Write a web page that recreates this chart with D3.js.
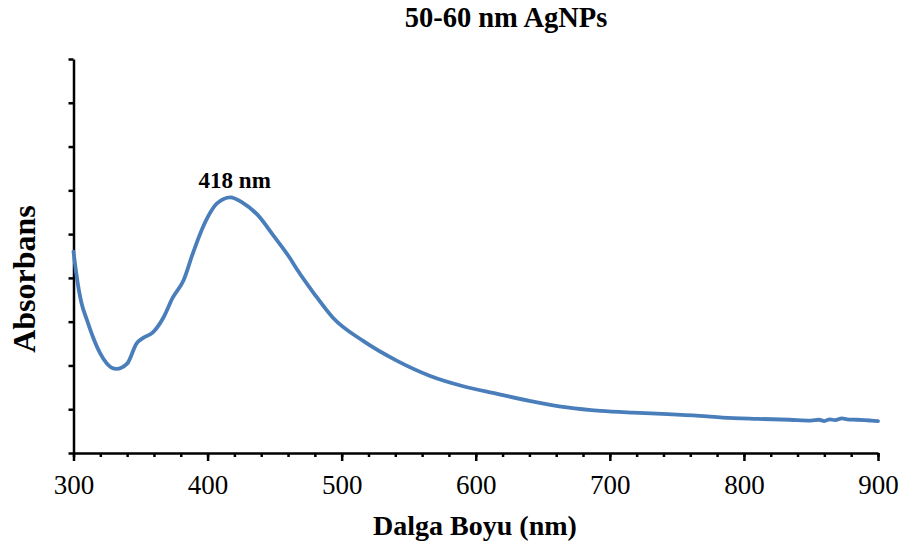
<!DOCTYPE html>
<html><head><meta charset="utf-8">
<script src="https://cdn.jsdelivr.net/npm/d3@7"></script>
<style>body{margin:0;background:#fff}svg{display:block}</style>
</head><body>
<svg id="c" width="906" height="544"></svg>
<script>
const wavelength = [300,302,304,306,310,314.5,320,325,332,340,347,352,359,367,374,382,389,394.5,400,407,417,426,437,449,461,467,479,493.5,516,541,566,590,616,640,668,693,717,743,767,784,810,834,850,856,860,864,868,873,877,884,890,895,900];
const absorbance = [0.46,0.412,0.372,0.342,0.304,0.265,0.227,0.204,0.192,0.204,0.25,0.263,0.275,0.309,0.355,0.394,0.456,0.501,0.538,0.570,0.584,0.572,0.545,0.497,0.447,0.418,0.366,0.309,0.256,0.211,0.176,0.153,0.135,0.119,0.104,0.096,0.092,0.089,0.085,0.081,0.078,0.076,0.074,0.076,0.073,0.077,0.075,0.079,0.077,0.076,0.075,0.074,0.073];
const xMajorTicks = [300,400,500,600,700,800,900];
const xMinorTicks = d3.range(300, 901, 20);
const yTicks = d3.range(0, 0.91, 0.1);
const title = "50-60 nm AgNPs";
const xTitle = "Dalga Boyu (nm)";
const yTitle = "Absorbans";
const peakLabel = "418 nm";
const peakWl = 418;

const svg = d3.select("#c");
const x = d3.scaleLinear().domain([300, 900]).range([73.5, 878]);
const y = d3.scaleLinear().domain([0, 0.9]).range([453, 59]);
const serif = "'Liberation Serif','Times New Roman',serif";

// x minor ticks
const gMin = svg.append("g").attr("transform", `translate(0,${y(0)})`)
  .call(d3.axisBottom(x).tickValues(xMinorTicks).tickSize(4).tickSizeOuter(0).tickFormat(""));
gMin.select(".domain").remove();
gMin.selectAll("line").attr("stroke", "#000").attr("stroke-width", 2.5);

// x major axis
const gx = svg.append("g").attr("transform", `translate(0,${y(0)})`)
  .call(d3.axisBottom(x).tickValues(xMajorTicks).tickSize(8).tickSizeOuter(0).tickPadding(14).tickFormat(d3.format("d")));
gx.select(".domain").attr("stroke", "#000").attr("stroke-width", 2.5);
gx.selectAll("line").attr("stroke", "#000").attr("stroke-width", 2.5);
gx.selectAll("text").attr("font-family", serif).attr("font-size", 27).attr("fill", "#000");

// y axis
const gy = svg.append("g").attr("transform", `translate(${x(300)},0)`)
  .call(d3.axisLeft(y).tickValues(yTicks).tickSize(5).tickSizeOuter(0).tickFormat(""));
gy.select(".domain").attr("stroke", "#000").attr("stroke-width", 2.5);
gy.selectAll("line").attr("stroke", "#000").attr("stroke-width", 2.5);

// curve
const data = wavelength.map((w, i) => ({w, a: absorbance[i]}));
svg.append("path").datum(data)
  .attr("fill", "none").attr("stroke", "#4a7ebb").attr("stroke-width", 3.8)
  .attr("stroke-linejoin", "round").attr("stroke-linecap", "round")
  .attr("d", d3.line().x(d => x(d.w)).y(d => y(d.a)).curve(d3.curveMonotoneX));

// texts
svg.append("text").attr("x", 506).attr("y", 27).attr("text-anchor", "middle")
  .attr("font-family", serif).attr("font-weight", "bold").attr("font-size", 28.5).text(title);
svg.append("text").attr("x", 475).attr("y", 535).attr("text-anchor", "middle")
  .attr("font-family", serif).attr("font-weight", "bold").attr("font-size", 28).text(xTitle);
svg.append("text").attr("transform", "translate(35,279) rotate(-90)").attr("text-anchor", "middle")
  .attr("font-family", serif).attr("font-weight", "bold").attr("font-size", 32).text(yTitle);
svg.append("text").attr("x", x(peakWl) + 3).attr("y", 188).attr("text-anchor", "middle")
  .attr("font-family", serif).attr("font-weight", "bold").attr("font-size", 23).text(peakLabel);
</script>
</body></html>
